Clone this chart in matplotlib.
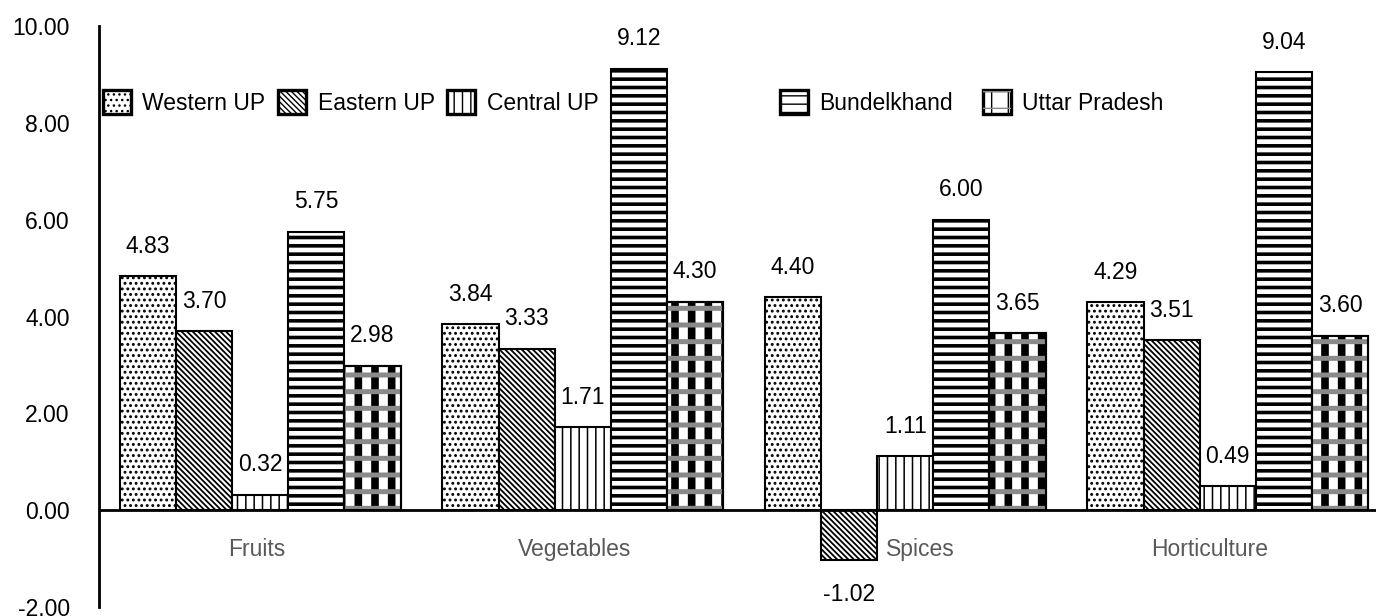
import matplotlib.pyplot as plt
import numpy as np

plt.rcParams['font.family'] = ['Liberation Sans', 'DejaVu Sans']

# Data
categories = ['Fruits', 'Vegetables', 'Spices', 'Horticulture']
western_up = [4.83, 3.84, 4.40, 4.29]
eastern_up = [3.70, 3.33, -1.02, 3.51]
central_up = [0.32, 1.71, 1.11, 0.49]
bundelkhand = [5.75, 9.12, 6.00, 9.04]
uttar_pradesh = [2.98, 4.30, 3.65, 3.60]
y_ticks = [-2, 0, 2, 4, 6, 8, 10]

FS = 16.5
fig = plt.figure(figsize=(13.76, 6.16), dpi=100)
ax = fig.add_axes([99 / 1376, 9 / 616, 1290 / 1376, 581 / 616])

x = np.arange(len(categories))
w = 0.174


def hbar(vals, j, hatch, hlw, fc='white', ec='black', lw=1.5, label=None):
    with plt.rc_context({'hatch.linewidth': hlw}):
        bars = ax.bar(x + (j - 2) * w, vals, w, facecolor=fc, edgecolor=ec,
                      linewidth=lw, hatch=hatch, label=label, zorder=2)
    for b in bars:
        if hasattr(b, 'set_hatch_linewidth'):
            b.set_hatch_linewidth(hlw)
    return bars


b_w = hbar(western_up, 0, '...', 1.3, label='Western UP')
b_e = hbar(eastern_up, 1, '\\' * 6, 1.3, label='Eastern UP')
b_c = hbar(central_up, 2, '||', 1.1, label='Central UP')
b_b = hbar(bundelkhand, 3, '--', 2.6, label='Bundelkhand')
b_u1 = hbar(uttar_pradesh, 4, '|', 5.5, label='Uttar Pradesh')
b_u2 = hbar(uttar_pradesh, 4, '-', 3.6, fc='none', ec='#8a8a8a', lw=0)
hbar(uttar_pradesh, 4, None, 1.0, fc='none', ec='black', lw=1.5)

# value labels
for vals, j in [(western_up, 0), (eastern_up, 1), (central_up, 2),
                (bundelkhand, 3), (uttar_pradesh, 4)]:
    for i, v in enumerate(vals):
        ax.annotate(f'{v:.2f}', (x[i] + (j - 2) * w, v),
                    xytext=(0, 30 if v >= 0 else -35), textcoords='offset pixels',
                    ha='center', va='center', fontsize=FS, color='black')

# category labels (slightly nudged like the original)
nudge = [-0.012, -0.025, 0.048, -0.057]
for i, c in enumerate(categories):
    ax.annotate(c, (x[i] + nudge[i], 0), xytext=(0, -39), textcoords='offset pixels',
                ha='center', va='center', fontsize=FS, color='#595959')

ax.axhline(0, color='black', lw=2, zorder=3)
ax.set_xlim(-0.5, 3.5)
ax.set_ylim(-2, 10)
ax.set_xticks([])
ax.set_yticks(y_ticks)
ax.set_yticklabels([f'{t:.2f}' for t in y_ticks])
ax.tick_params(axis='y', length=0, pad=21, labelsize=FS, colors='black')
for s in ['top', 'right', 'bottom']:
    ax.spines[s].set_visible(False)
ax.spines['left'].set_linewidth(2)

common = dict(frameon=False, fontsize=FS, handlelength=1.22, handleheight=1.22,
              handletextpad=0.5, borderpad=0, borderaxespad=0,
              loc='center left', bbox_transform=fig.transFigure)
leg1 = ax.legend([b_w, b_e, b_c], ['Western UP', 'Eastern UP', 'Central UP'],
                 ncol=3, columnspacing=0.55, bbox_to_anchor=(103 / 1376, 0.834), **common)
ax.add_artist(leg1)
leg2 = ax.legend([b_b, (b_u1, b_u2)], ['Bundelkhand', 'Uttar Pradesh'],
                 ncol=2, columnspacing=1.3, bbox_to_anchor=(780 / 1376, 0.834), **common)
for lg in (leg1, leg2):
    for h in lg.legend_handles:
        if h is not None and hasattr(h, 'set_linewidth'):
            h.set_linewidth(2.4)

plt.savefig('out.png', dpi=100)
